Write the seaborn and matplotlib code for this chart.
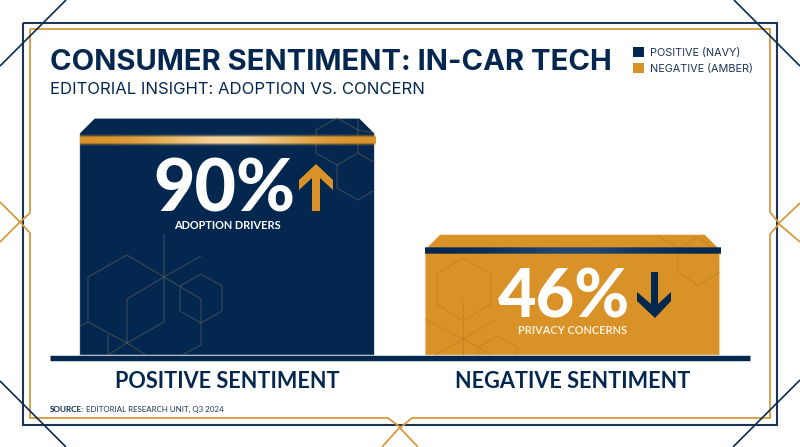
import numpy as np
import matplotlib
matplotlib.use("Agg")
import matplotlib.pyplot as plt
from matplotlib.patches import Patch, Polygon
from matplotlib.colors import to_rgb
import seaborn as sns

# data
categories = ["POSITIVE SENTIMENT", "NEGATIVE SENTIMENT"]
values = [90, 46]
captions = ["ADOPTION DRIVERS", "PRIVACY CONCERNS"]
legend_labels = ["POSITIVE (NAVY)", "NEGATIVE (AMBER)"]

NAVY = "#04274f"
AMBER = "#d99227"

sns.set_theme(style="white")
plt.rcParams["font.family"] = ["Inter", "DejaVu Sans"]

W, H = 800, 447
fig = plt.figure(figsize=(W / 100, H / 100), dpi=100, facecolor="white")

# bars, 2.64px for one percent
ax = fig.add_axes([50 / W, (H - 355.5) / H, 700 / W, 264 / H], facecolor="none")
sns.barplot(x=categories, y=values, hue=categories, palette=[NAVY, AMBER],
            saturation=1, width=0.855, legend=False, ax=ax)
ax.set_xlim(-0.5126, 1.514)
ax.set_ylim(0, 100)
ax.set_yticks([])
ax.set_xlabel("")
ax.set_ylabel("")
sns.despine(ax=ax, left=True)
ax.spines["bottom"].set_color(NAVY)
ax.spines["bottom"].set_linewidth(3.9)
ax.spines["bottom"].set_capstyle("butt")
ax.spines["bottom"].set_position(("outward", 1.9))
ax.tick_params(axis="x", length=0, pad=9)
for lab in ax.get_xticklabels():
    lab.set_fontfamily("Lato")
    lab.set_fontweight("bold")
    lab.set_fontsize(15.6)
    lab.set_color(NAVY)

# cut the top corners of the bars
for bar in ax.patches:
    x0, w, h = bar.get_x(), bar.get_width(), bar.get_height()
    dx, dy = 16 / 345.3, 16 / 2.64
    clip = Polygon([(x0, 0), (x0, h - dy), (x0 + dx, h), (x0 + w - dx, h),
                    (x0 + w, h - dy), (x0 + w, 0)], transform=ax.transData)
    bar.set_clip_path(clip)
    bar.set_snap(False)

# overlay in pixel coordinates for the decoration
ov = fig.add_axes([0, 0, 1, 1], facecolor="none")
ov.axis("off")


def path(pts, color, lw=1.3, alpha=1.0):
    xs, ys = zip(*pts)
    ov.plot(xs, ys, color=color, lw=lw, alpha=alpha, solid_joinstyle="miter", solid_capstyle="butt")


def band(x0, x1, yc, core, glow, base, light):
    # horizontal gradient with soft vertical edge
    ys = np.linspace(-1, 1, 60)
    xs = np.linspace(-1, 1, 200)
    img = np.zeros((60, 200, 4))
    b, l = np.array(to_rgb(base)), np.array(to_rgb(light))
    mix = np.exp(-(xs * 2.0) ** 2)[None, :, None]
    img[..., :3] = b * (1 - mix) + l * mix
    dist = np.abs(ys) * glow
    a = np.clip(1 - (dist - core) / (glow - core), 0, 1) ** 2
    img[..., 3] = a[:, None]
    ov.imshow(img, extent=(x0, x1, yc + glow, yc - glow), aspect="auto", zorder=3)


# frames
path([(23, 22.5), (777, 22.5), (777, 425), (23, 425), (23, 22.5)], "#1c3557", lw=1.5)
amber_line = "#d39a3e"
path([(30, 29), (770, 29), (770, 212), (779, 223), (800, 203)], amber_line)
path([(30, 29), (30, 213), (20, 222), (0, 202)], amber_line)
path([(0, 242), (20, 222), (30, 233), (30, 418), (388, 418), (400, 427), (382, 447)], amber_line)
path([(418, 447), (400, 428), (412, 418), (770, 418), (770, 234), (779, 224), (800, 242)], amber_line)
for pts in ([(0, 66), (66, 0)], [(734, 0), (800, 66)], [(0, 381), (66, 447)], [(733, 447), (800, 380)]):
    path(pts, "#0b2a50", lw=1.2)

# hexagon line work on the navy bar
hex_navy = "#8a7a5c"
for pts in (
    [(337, 118), (358, 130), (358, 153), (337, 165), (316, 153), (316, 130), (337, 118)],
    [(358, 153), (375, 163)], [(337, 165), (337, 188), (358, 200), (375, 190)],
    [(358, 118), (358, 130), (375, 133)],
    [(127, 255), (164, 277), (201, 299), (201, 345), (182, 355)],
    [(127, 255), (88, 277), (88, 322), (127, 343), (146, 355)],
    [(164, 234), (164, 322), (127, 343), (127, 299), (164, 277), (201, 256)],
    [(201, 274), (222, 286), (222, 311), (201, 323), (180, 311), (180, 286), (201, 274)],
    [(80, 326), (88, 322)],
    [(108, 334), (108, 355), (127, 343)],
):
    path(pts, hex_navy, lw=0.8, alpha=0.4)

# hexagon line work on the amber bar
hex_amber = "#b9791c"
for pts in (
    [(463, 258), (491, 274), (491, 304), (463, 321), (437, 304), (437, 274), (463, 258)],
    [(463, 301), (463, 355)],
    [(425, 319), (463, 339), (490, 354)],
    [(497, 319), (463, 339), (435, 355)],
    [(478, 355), (478, 347), (498, 336), (517, 347), (517, 355)],
    [(720, 254), (698, 237), (678, 249), (678, 272), (698, 285), (720, 272)],
    [(658, 236), (677, 247)],
):
    path(pts, hex_amber, lw=0.8, alpha=0.5)

# bands across the bar tops
band(79.5, 375, 140, 3, 7, AMBER, "#f6d39a")
band(424.7, 720, 250.5, 3, 3.4, NAVY, "#24476f")

# arrows
ov.add_patch(Polygon([(316, 164), (333, 180), (333, 190), (320, 178), (320, 211), (312, 211),
                      (312, 178), (299, 190), (299, 180)], fc=AMBER, ec="none", zorder=4))
ov.add_patch(Polygon([(655, 318), (671, 301), (671, 292), (658, 304), (658, 272), (651, 272),
                      (651, 304), (637, 292), (637, 301)], fc=NAVY, ec="none", zorder=4))

# big numbers and captions
ov.text(224, 211, f"{values[0]}%", color="white", fontsize=51.5, family="Lato", fontweight=900,
        ha="center", va="baseline", zorder=5)
ov.text(564, 317, f"{values[1]}%", color="white", fontsize=48, family="Lato", fontweight=900,
        ha="center", va="baseline", zorder=5)
ov.text(227, 229, captions[0], color="white", fontsize=7.9, family="Lato", fontweight="bold",
        ha="center", va="baseline", zorder=5)
ov.text(572, 334.5, captions[1], color="#fbeedb", fontsize=7.9, family="Lato", fontweight="bold",
        ha="center", va="baseline", zorder=5)

# title block
ov.text(50, 70, "CONSUMER SENTIMENT: IN-CAR TECH", color=NAVY, fontsize=21.05, fontweight="bold",
        ha="left", va="baseline")
ov.text(50, 94, "EDITORIAL INSIGHT: ADOPTION VS. CONCERN", color=NAVY, fontsize=12,
        ha="left", va="baseline")

# source
src = ov.text(50, 412, "SOURCE:", color=NAVY, fontsize=5.9, family="Lato", fontweight="bold",
              ha="left", va="baseline")
ov.annotate("EDITORIAL RESEARCH UNIT, Q3 2024", xy=(1, 0), xycoords=src, xytext=(1.5, 0),
            textcoords="offset points", color="#1c3557", fontsize=5.7, family="Lato",
            ha="left", va="bottom")

ov.set_xlim(0, W)
ov.set_ylim(H, 0)

# legend
handles = [Patch(fc=NAVY, ec="none"), Patch(fc=AMBER, ec="none")]
fig.legend(handles, legend_labels, loc="upper left", bbox_to_anchor=(630 / W, (H - 44) / H),
           frameon=False, handlelength=1.0, handleheight=1.0, handletextpad=0.5,
           labelspacing=0.5, fontsize=7.8, labelcolor="#1c3557", borderpad=0.3, borderaxespad=0)

fig.savefig("out.png", dpi=100)
